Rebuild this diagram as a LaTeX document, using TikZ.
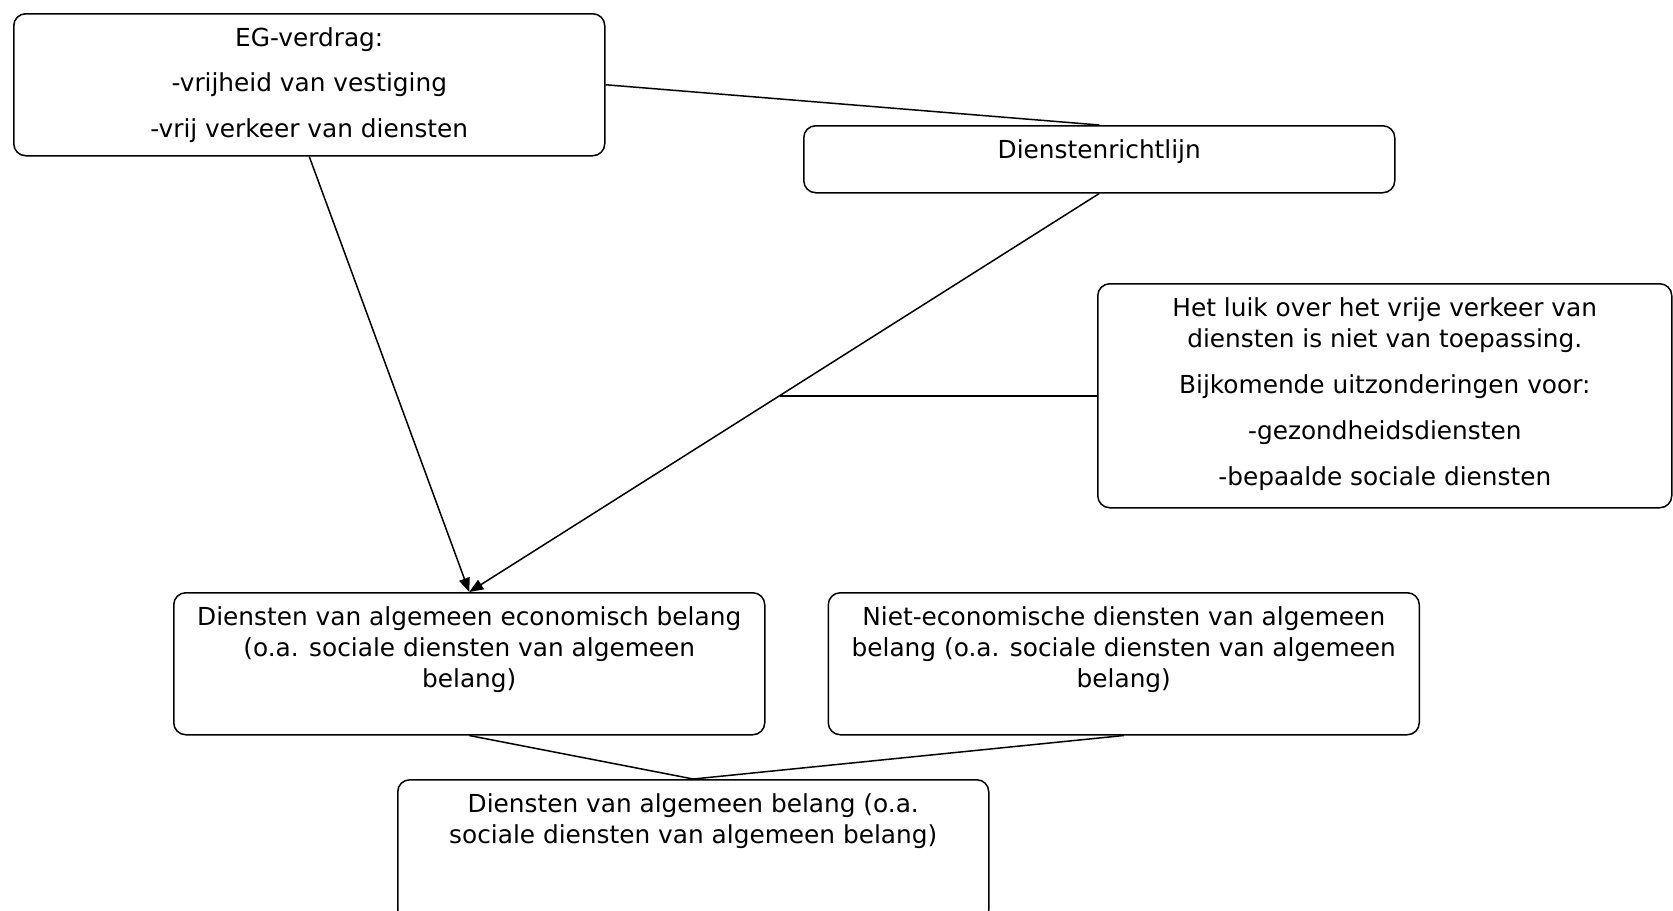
\documentclass[tikz,border=0pt]{standalone}
\usepackage{fontspec}
\setmainfont{DejaVu Sans}
\usetikzlibrary{arrows.meta,positioning,calc}

% box content: width, height, text (top aligned)
\newcommand{\boxtext}[3]{\parbox[c][#2][t]{#1}{\centering\vspace*{5.3pt}\strut#3}}

\begin{document}
\begin{tikzpicture}[
x=0.5pt, y=-0.5pt,
box/.style={draw=black, rounded corners=6pt, line width=0.75pt, inner sep=0pt, anchor=north west, font=\fontsize{12.4pt}{15.5pt}\selectfont},
line/.style={line width=0.75pt, draw=black},
arrow/.style={line, -{Triangle[length=7pt,width=5.5pt]}}
]
\useasboundingbox (0,0) rectangle (1673,910);
\node[box] (verdrag) at (13,13) {\boxtext{295.5pt}{71pt}{EG-verdrag:\\[7.25pt] -vrijheid van vestiging\\[7.25pt] -vrij verkeer van diensten}};
\node[box] (richtlijn) at (803,125) {\boxtext{295.5pt}{33.5pt}{Dienstenrichtlijn}};
\node[box] (luik) at (1097,283) {\boxtext{287pt}{112pt}{Het luik over het vrije verkeer van\\ diensten is niet van toepassing.\\[7.5pt] Bijkomende uitzonderingen voor:\\[7.5pt] -gezondheidsdiensten\\[7.5pt] -bepaalde sociale diensten}};
\node[box] (econ) at (173,592) {\boxtext{295.5pt}{71pt}{Diensten van algemeen economisch belang\\ (o.a. sociale diensten van algemeen\\ belang)}};
\node[box, right=31pt of econ.north east, anchor=north west] (nietecon) {\boxtext{295.5pt}{71pt}{Niet-economische diensten van algemeen\\ belang (o.a. sociale diensten van algemeen\\ belang)}};
\node[box] (algemeen) at (397,779) {\boxtext{295.5pt}{71pt}{Diensten van algemeen belang (o.a.\\ sociale diensten van algemeen belang)}};
% connectors
\draw[line] (verdrag.east) -- (richtlijn.north);
\draw[arrow] (verdrag.south) -- (econ.north);
\draw[arrow] (richtlijn.south) -- (econ.north);
\coordinate (m) at ($(richtlijn.south)!0.5075!(econ.north)$);
\draw[line] (luik.west) -- (luik.west -| m);
\draw[line] (econ.south) -- (algemeen.north);
\draw[line] (nietecon.south) -- (algemeen.north);
\end{tikzpicture}
\end{document}
